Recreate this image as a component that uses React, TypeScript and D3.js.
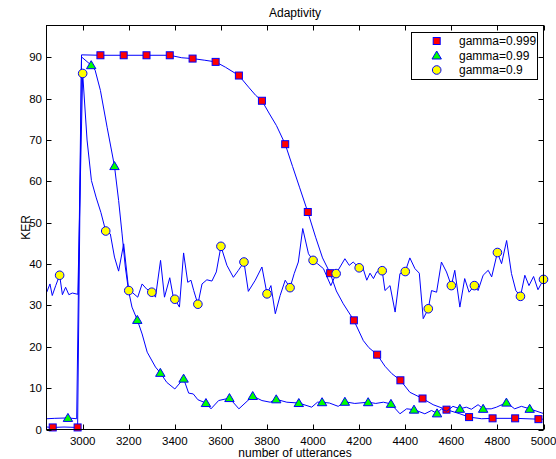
import React from "react";
import * as d3 from "d3";

// gamma=0.999 (red squares)
const line999: [number, number][] = [
  [2844, 0.6], [2870, 0.5], [2919, 0.6], [2978, 0.5], [2995, 90.6], [3077, 90.5],
  [3178, 90.5], [3277, 90.5], [3378, 90.5], [3430, 89.9], [3477, 89.7], [3530, 89.3],
  [3577, 88.9], [3620, 87.6], [3678, 85.6], [3720, 82.8], [3751, 80.8], [3778, 79.5],
  [3811, 76.3], [3841, 73.5], [3879, 69.0], [3911, 63.6], [3941, 58.6], [3977, 52.6],
  [4011, 46.5], [4041, 41.5], [4074, 37.8], [4101, 33.5], [4131, 30.4], [4177, 26.4],
  [4218, 21.5], [4242, 19.8], [4278, 18.1], [4312, 15.3], [4342, 13.5], [4379, 11.9],
  [4420, 9.0], [4475, 7.5], [4521, 6.0], [4579, 4.8], [4637, 3.8], [4677, 3.0],
  [4732, 2.6], [4779, 2.7], [4877, 2.7], [4978, 2.5], [4998, 2.5],
];
const marks999: [number, number][] = [
  [2870, 0.5], [2978, 0.5], [3077, 90.5], [3178, 90.5], [3277, 90.5], [3378, 90.5],
  [3477, 89.7], [3577, 88.9], [3678, 85.6], [3778, 79.5], [3879, 69.0], [3977, 52.6],
  [4074, 37.8], [4177, 26.4], [4278, 18.1], [4379, 11.9], [4475, 7.5], [4579, 4.8],
  [4677, 3.0], [4779, 2.7], [4877, 2.7], [4978, 2.5],
];

// gamma=0.99 (green triangles)
const line99: [number, number][] = [
  [2844, 2.6], [2879, 2.7], [2936, 2.8], [2974, 2.6], [2995, 90.1], [3037, 88.1],
  [3054, 86.9], [3077, 82.0], [3106, 73.1], [3138, 63.7], [3156, 55.4], [3171, 47.3],
  [3185, 39.3], [3199, 33.6], [3214, 29.6], [3237, 26.5], [3258, 23.1], [3280, 18.7],
  [3316, 15.1], [3337, 13.7], [3365, 11.4], [3400, 9.8], [3438, 12.3], [3460, 8.8],
  [3480, 8.6], [3500, 7.2], [3535, 6.4], [3557, 5.0], [3590, 7.0], [3637, 7.6],
  [3678, 5.0], [3738, 8.1], [3778, 7.0], [3814, 6.6], [3840, 7.3], [3886, 6.6],
  [3938, 6.4], [3994, 5.4], [4019, 6.6], [4039, 6.6], [4071, 6.4], [4109, 5.6],
  [4138, 6.7], [4181, 6.3], [4239, 6.6], [4272, 6.3], [4305, 6.6], [4338, 6.2],
  [4377, 3.8], [4406, 5.0], [4438, 4.8], [4485, 3.8], [4514, 4.6], [4538, 3.9],
  [4557, 5.0], [4579, 4.4], [4607, 5.6], [4637, 5.0], [4665, 5.4], [4687, 4.9],
  [4716, 6.0], [4738, 5.0], [4773, 5.0], [4796, 5.4], [4839, 6.5], [4875, 5.0],
  [4904, 5.6], [4940, 5.0], [4998, 3.9],
];
const marks99: [number, number][] = [
  [2936, 2.8], [3037, 88.1], [3138, 63.7], [3237, 26.5], [3337, 13.7], [3438, 12.3],
  [3535, 6.4], [3637, 7.6], [3738, 8.1], [3840, 7.3], [3938, 6.4], [4039, 6.6],
  [4138, 6.7], [4239, 6.6], [4338, 6.2], [4438, 4.8], [4538, 3.9], [4637, 5.0],
  [4738, 5.0], [4839, 6.5], [4940, 5.0],
];

// gamma=0.9 (yellow circles)
const line9: [number, number][] = [
  [2844, 33.2], [2858, 35.2], [2868, 32.4], [2883, 34.8], [2900, 37.3], [2912, 32.6],
  [2926, 34.4], [2940, 32.6], [2955, 33.0], [2979, 32.7], [3000, 86.1], [3019, 70.0],
  [3038, 60.2], [3059, 56.0], [3079, 52.5], [3100, 48.0], [3120, 47.3], [3138, 41.7],
  [3156, 38.3], [3178, 44.9], [3200, 33.6], [3214, 33.2], [3239, 32.0], [3258, 35.2],
  [3277, 34.0], [3300, 33.2], [3316, 32.0], [3338, 40.9], [3355, 32.0], [3378, 36.7],
  [3392, 32.4], [3400, 31.5], [3420, 29.6], [3438, 42.7], [3456, 35.6], [3470, 36.1],
  [3482, 33.6], [3500, 30.3], [3518, 35.2], [3539, 36.2], [3561, 35.9], [3580, 38.1],
  [3600, 44.3], [3626, 39.7], [3654, 36.8], [3676, 38.5], [3700, 40.5], [3719, 33.4],
  [3749, 36.1], [3778, 39.3], [3800, 32.8], [3817, 34.8], [3836, 28.0], [3857, 32.4],
  [3879, 36.1], [3900, 34.3], [3918, 37.7], [3936, 40.5], [3955, 48.6], [3980, 42.5],
  [4000, 40.9], [4019, 40.1], [4045, 38.9], [4077, 34.8], [4100, 37.7], [4117, 39.3],
  [4138, 41.3], [4157, 39.7], [4174, 40.5], [4200, 39.1], [4215, 39.3], [4233, 36.1],
  [4247, 37.8], [4262, 36.5], [4276, 38.1], [4300, 38.4], [4312, 33.6], [4334, 34.8],
  [4356, 28.4], [4377, 37.7], [4400, 38.2], [4420, 41.5], [4442, 38.9], [4461, 37.8],
  [4478, 26.8], [4500, 29.2], [4514, 33.6], [4536, 33.2], [4557, 40.5], [4579, 38.1],
  [4600, 34.8], [4615, 38.5], [4637, 29.6], [4658, 36.5], [4677, 33.2], [4700, 34.8],
  [4716, 33.6], [4738, 37.3], [4760, 38.5], [4775, 36.9], [4800, 42.8], [4818, 40.1],
  [4840, 45.7], [4861, 37.7], [4880, 33.6], [4900, 32.2], [4919, 37.3], [4937, 34.8],
  [4957, 37.0], [4976, 33.8], [5000, 36.3],
];
const marks9: [number, number][] = [
  [2900, 37.3], [3000, 86.1], [3100, 48.0], [3200, 33.6], [3300, 33.2], [3400, 31.5],
  [3500, 30.3], [3600, 44.3], [3700, 40.5], [3800, 32.8], [3900, 34.3], [4000, 40.9],
  [4100, 37.7], [4200, 39.1], [4300, 38.4], [4400, 38.2], [4500, 29.2], [4600, 34.8],
  [4700, 34.8], [4800, 42.8], [4900, 32.2], [5000, 36.3],
];

const xTicks = [3000, 3200, 3400, 3600, 3800, 4000, 4200, 4400, 4600, 4800, 5000];
const yTicks = [0, 10, 20, 30, 40, 50, 60, 70, 80, 90];
const legendLabels = ["gamma=0.999", "gamma=0.99", "gamma=0.9"];

const BLUE = "#0000ff";
const FONT = "'Liberation Sans', Arial, Helvetica, sans-serif";

const left = 46.5;
const right = 543.5;
const top = 25.5;
const bottom = 429.5;

const Square = ({ cx, cy }: { cx: number; cy: number }) => (
  <rect x={cx - 3.5} y={cy - 3.5} width={7} height={7} fill="#ff0000" stroke={BLUE} strokeWidth={1} />
);
const Triangle = ({ cx, cy }: { cx: number; cy: number }) => (
  <path d={`M${cx},${cy - 4.5}L${cx + 4.7},${cy + 3.5}L${cx - 4.7},${cy + 3.5}Z`} fill="#00ff00" stroke={BLUE} strokeWidth={1} />
);
const Circle = ({ cx, cy }: { cx: number; cy: number }) => (
  <circle cx={cx} cy={cy} r={4.3} fill="#ffff00" stroke={BLUE} strokeWidth={1} />
);

export default function App() {
  const x = d3.scaleLinear().domain([2843, 5000]).range([left, right]);
  const y = d3.scaleLinear().domain([0, 97.7]).range([bottom, top]);

  const path = d3
    .line<[number, number]>()
    .x((d) => x(d[0]))
    .y((d) => y(d[1]));

  const series = [
    { line: line999, marks: marks999, Mark: Square },
    { line: line99, marks: marks99, Mark: Triangle },
    { line: line9, marks: marks9, Mark: Circle },
  ];

  return (
    <svg
      width={556}
      height={459}
      style={{ position: "absolute", left: 0, top: 0, background: "#fff" }}
      fontFamily={FONT}
    >
      <rect x={0} y={0} width={556} height={459} fill="#fff" />
      <defs>
        <clipPath id="plot">
          <rect x={left} y={top} width={right - left} height={bottom - top} />
        </clipPath>
      </defs>

      {/* data */}
      {series.map((s, i) => (
        <g key={i}>
          <path d={path(s.line) ?? ""} fill="none" stroke={BLUE} strokeWidth={1} clipPath="url(#plot)" />
          {s.marks.map((d, j) => (
            <s.Mark key={j} cx={x(d[0])} cy={y(d[1])} />
          ))}
        </g>
      ))}

      {/* box + ticks */}
      <rect x={left} y={top} width={right - left} height={bottom - top} fill="none" stroke="#000" strokeWidth={1} />
      {xTicks.map((t) => (
        <g key={t}>
          <line x1={Math.round(x(t)) + 0.5} x2={Math.round(x(t)) + 0.5} y1={bottom} y2={bottom - 5} stroke="#000" />
          <line x1={Math.round(x(t)) + 0.5} x2={Math.round(x(t)) + 0.5} y1={top} y2={top + 5} stroke="#000" />
          <text x={x(t)} y={445} fontSize={11.5} textAnchor="middle">
            {t}
          </text>
        </g>
      ))}
      {yTicks.map((t) => (
        <g key={t}>
          <line x1={left} x2={left + 5} y1={Math.round(y(t)) + 0.5} y2={Math.round(y(t)) + 0.5} stroke="#000" />
          <line x1={right} x2={right - 5} y1={Math.round(y(t)) + 0.5} y2={Math.round(y(t)) + 0.5} stroke="#000" />
          <text x={42} y={y(t) + 4} fontSize={11.5} textAnchor="end">
            {t}
          </text>
        </g>
      ))}

      <text x={(left + right) / 2} y={17} fontSize={12} textAnchor="middle">
        Adaptivity
      </text>
      <text x={(left + right) / 2} y={457} fontSize={12} textAnchor="middle">
        number of utterances
      </text>
      <text transform={`translate(30,${(top + bottom) / 2}) rotate(-90)`} fontSize={12} textAnchor="middle">
        KER
      </text>

      {/* legend */}
      <g>
        <rect x={411.5} y={32.5} width={126} height={47} fill="#fff" stroke="#000" strokeWidth={1} />
        {series.map((s, i) => (
          <g key={i}>
            <s.Mark cx={436.7} cy={41 + i * 14.5} />
            <text x={459} y={41 + i * 14.5 + 4.2} fontSize={12}>
              {legendLabels[i]}
            </text>
          </g>
        ))}
      </g>
    </svg>
  );
}
